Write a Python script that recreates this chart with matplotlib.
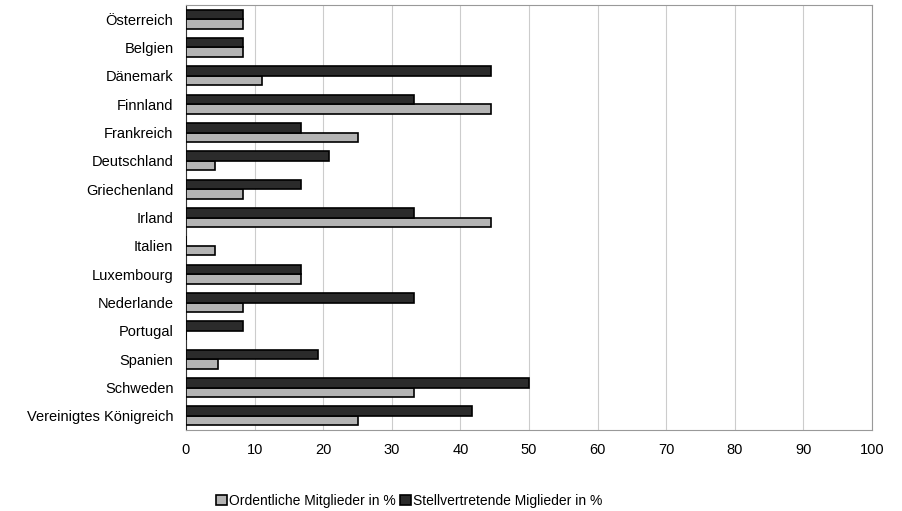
import numpy as np
import matplotlib.pyplot as plt

plt.rcParams['font.family'] = ['Liberation Sans', 'DejaVu Sans']

laender = ['Österreich', 'Belgien', 'Dänemark', 'Finnland', 'Frankreich',
           'Deutschland', 'Griechenland', 'Irland', 'Italien', 'Luxembourg',
           'Nederlande', 'Portugal', 'Spanien', 'Schweden',
           'Vereinigtes Königreich']
ordentliche = [8.3, 8.3, 11.1, 44.4, 25.0, 4.2, 8.3, 44.4, 4.2, 16.7,
               8.3, 0, 4.6, 33.3, 25.0]
stellvertretende = [8.3, 8.3, 44.4, 33.3, 16.7, 20.8, 16.7, 33.3, 0, 16.7,
                    33.3, 8.3, 19.2, 50.0, 41.7]

fig = plt.figure(figsize=(9.03, 5.11), dpi=100)
ax = fig.add_axes([186 / 903, 81 / 511, 686 / 903, 425 / 511])

y = np.arange(len(laender))
h = 0.34
ax.barh(y + h / 2, ordentliche, height=h, color='#b4b4b4', edgecolor='black',
        linewidth=1.2, label='Ordentliche Mitglieder in %', zorder=3)
ax.barh(y - h / 2, stellvertretende, height=h, color='#2b2b2b', edgecolor='black',
        linewidth=1.2, label='Stellvertretende Miglieder in %', zorder=3)

ax.set_xlim(0, 100)
ax.set_xticks(range(0, 101, 10))
ax.set_ylim(len(laender) - 0.5, -0.5)
ax.set_yticks(y)
ax.set_yticklabels(laender, fontsize=10.5)
ax.tick_params(axis='x', labelsize=10.5, length=0, pad=9)
ax.tick_params(axis='y', length=0, pad=9)
ax.grid(axis='x', color='#cccccc', linewidth=0.8, zorder=0)
for s in ax.spines.values():
    s.set_color('#999999')
ax.spines['left'].set_color('#333333')

leg = ax.legend(loc='upper center', bbox_to_anchor=(0.325, -0.12), ncol=2,
                frameon=False, fontsize=10, handlelength=0.8, handletextpad=0.15,
                columnspacing=0.3)

fig.savefig('out.png', dpi=100)
